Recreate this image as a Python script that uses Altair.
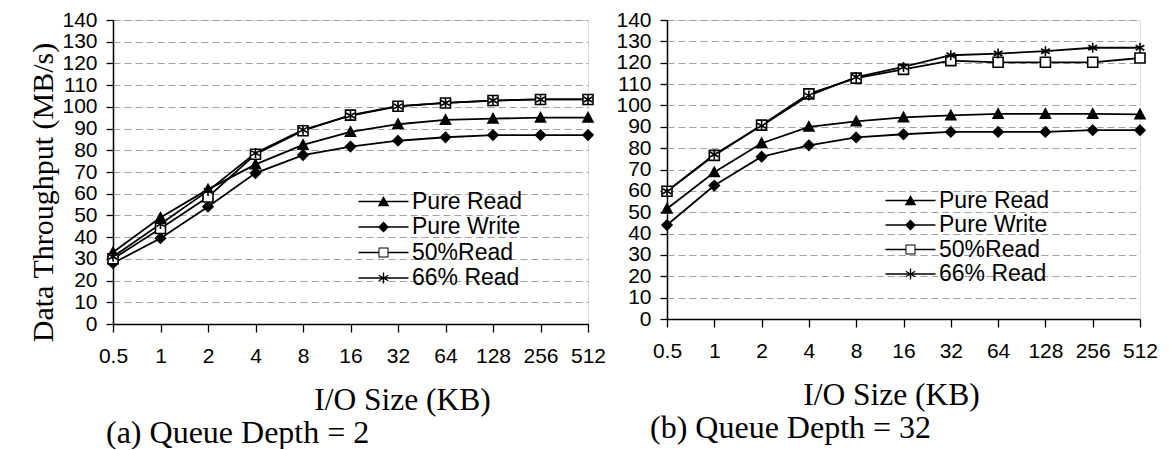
import altair as alt
import pandas as pd

SIZES = ["0.5", "1", "2", "4", "8", "16", "32", "64", "128", "256", "512"]
SERIES = ["Pure Read", "Pure Write", "50%Read", "66% Read"]
Y_TICKS = list(range(0, 141, 10))

# (a) Queue Depth = 2
QD2_PURE_READ = [33, 49, 62, 73.5, 82.5, 88.5, 92, 94, 94.6, 95, 95]
QD2_PURE_WRITE = [28, 39.5, 54, 69.5, 77.8, 81.7, 84.4, 86, 87, 87, 87]
QD2_50_READ = [30, 44, 58.5, 78.2, 89, 96.2, 100.3, 101.8, 102.9, 103.4, 103.4]
QD2_66_READ = [31, 46, 61.3, 78.7, 89.4, 96, 100.2, 101.8, 102.9, 103.4, 103.4]

# (b) Queue Depth = 32
QD32_PURE_READ = [51.6, 68.7, 82.3, 90, 92.5, 94.4, 95.3, 96, 96, 96, 95.8]
QD32_PURE_WRITE = [44, 62.5, 76, 81.3, 85, 86.5, 87.6, 87.6, 87.6, 88.4, 88.4]
QD32_50_READ = [59.8, 76.6, 90.8, 105.4, 112.8, 116.9, 121, 120.2, 120.2, 120.2, 122.2]
QD32_66_READ = [59.8, 77, 90.5, 104.6, 113.3, 118, 123.5, 124.3, 125.4, 127, 127]

# marker shapes for the data points (stroked)
TRI = "M0,-1L1,0.85L-1,0.85Z"
DIA = "M0,-1L1,0L0,1L-1,0Z"
SQ = "M-1,-1H1V1H-1Z"
AST = "M0,-1V1M-0.87,-0.5L0.87,0.5M-0.87,0.5L0.87,-0.5"
MARKERS = [TRI, DIA, SQ, AST]
FILLS = ["black", "black", "white", "black"]

# legend symbols: line + marker, drawn as filled outlines
BAR = "M-5,-0.15H5V0.15H-5Z"
SQ_RING = "M-1,-1H1V1H-1ZM-0.8,-0.8V0.8H0.8V-0.8Z"
BAR_SPLIT = "M-5,-0.15H-1V0.15H-5ZM1,-0.15H5V0.15H1Z"
AST_FILL = ("M-0.13,-1.1H0.13V1.1H-0.13Z"
            "M-1.01,-0.446L-0.89,-0.654L1.01,0.446L0.89,0.654Z"
            "M-0.89,0.654L-1.01,0.446L0.89,-0.654L1.01,-0.446Z")
LEG_TRI = "M0,-1.1L1.15,0.95L-1.15,0.95Z"
LEG_DIA = "M0,-1.1L1.1,0L0,1.1L-1.1,0Z"
LEG_PATHS = [BAR + LEG_TRI, BAR + LEG_DIA, BAR_SPLIT + SQ_RING, BAR + AST_FILL]

SANS = "Liberation Sans"
SERIF = "Liberation Serif"


def make_df(vals):
    rows = []
    for s, v in zip(SERIES, vals):
        for k, y in zip(SIZES, v):
            rows.append({"size": k, "series": s, "value": y})
    return pd.DataFrame(rows)


def panel(vals, caption, width, height, leg_x, leg_y, row_pad, xtitle_x, ytitle, cap_dx):
    df = make_df(vals)
    leg = alt.Legend(
        title=None, orient="none", legendX=leg_x, legendY=leg_y, padding=0,
        labelFont=SANS, labelFontSize=23, labelColor="black", labelLimit=300,
        labelOffset=17, rowPadding=row_pad, symbolSize=100, symbolFillColor="black",
        symbolStrokeWidth=0, symbolOpacity=1,
    )
    ykw = dict(
        values=Y_TICKS, labelFont=SANS, labelFontSize=21, labelColor="black",
        labelOverlap=False, labelPadding=9, tickSize=7, tickColor="black",
        tickWidth=1.3, domainColor="black", domainWidth=1.5, gridColor="#a0a0a0",
        gridDash=[7, 4], labelBound=False,
    )
    if ytitle:
        yaxis = alt.Axis(
            title=ytitle, titleFont=SERIF, titleFontSize=30, titleFontWeight="normal",
            titleColor="black", titleAngle=270, titleX=-61, titleY=height / 2 + 20,
            titleAlign="center", titleBaseline="alphabetic", **ykw,
        )
    else:
        yaxis = alt.Axis(title=None, **ykw)
    xaxis = alt.Axis(
        labelFont=SANS, labelFontSize=21, labelColor="black", labelAngle=0,
        labelOverlap=False, labelPadding=13, tickSize=8, tickColor="black",
        tickWidth=1.3, domainColor="black", domainWidth=1.5, gridColor="#a0a0a0",
        gridDash=[7, 4],
        title="I/O Size (KB)", titleFont=SERIF, titleFontSize=31.5,
        titleFontWeight="normal", titleColor="black", titleX=xtitle_x, titleY=85,
        titleAlign="center", titleBaseline="alphabetic", labelBound=False,
    )
    base = alt.Chart(df).encode(
        x=alt.X("size:O", sort=SIZES, scale=alt.Scale(type="point", padding=0), axis=xaxis),
        y=alt.Y("value:Q", scale=alt.Scale(domain=[0, 140]), axis=yaxis),
    )
    lines = base.mark_line(color="black", strokeWidth=1.8).encode(detail="series:N")
    points = base.mark_point(size=100, stroke="black", strokeWidth=1.6, opacity=1).encode(
        shape=alt.Shape("series:N", sort=SERIES, scale=alt.Scale(domain=SERIES, range=MARKERS), legend=None),
        fill=alt.Fill("series:N", sort=SERIES, scale=alt.Scale(domain=SERIES, range=FILLS), legend=None),
    )
    legend_layer = base.transform_filter("false").mark_point(
        size=100, filled=True, color="black", opacity=1
    ).encode(
        shape=alt.Shape("series:N", sort=SERIES, scale=alt.Scale(domain=SERIES, range=LEG_PATHS), legend=leg),
    )
    return alt.layer(lines, points, legend_layer).resolve_scale(
        shape="independent", fill="independent"
    ).resolve_legend(shape="independent", fill="independent").properties(
        width=width, height=height,
        title=alt.TitleParams(
            caption, orient="bottom", anchor="start", frame="group", font=SERIF,
            fontSize=32, fontWeight="normal", color="black", dx=cap_dx, offset=2,
        ),
    )


left = panel([QD2_PURE_READ, QD2_PURE_WRITE, QD2_50_READ, QD2_66_READ],
             "(a) Queue Depth = 2", 475, 304, 259, 170, 1.5, 289, "Data Throughput (MB/s)", -7)
right = panel([QD32_PURE_READ, QD32_PURE_WRITE, QD32_50_READ, QD32_66_READ],
              "(b) Queue Depth = 32", 473, 299, 232, 169, 0.5, 224, None, -17)

chart = alt.hconcat(left, right, spacing=79, bounds="flush").resolve_scale(
    shape="independent", fill="independent"
).resolve_legend(shape="independent", fill="independent").properties(
    padding={"left": 19, "top": 0, "right": 0, "bottom": 0}
).configure_view(stroke="black", strokeWidth=1.5).configure(background="white")

chart.save("out.html", embed_options={"renderer": "svg", "actions": False})
